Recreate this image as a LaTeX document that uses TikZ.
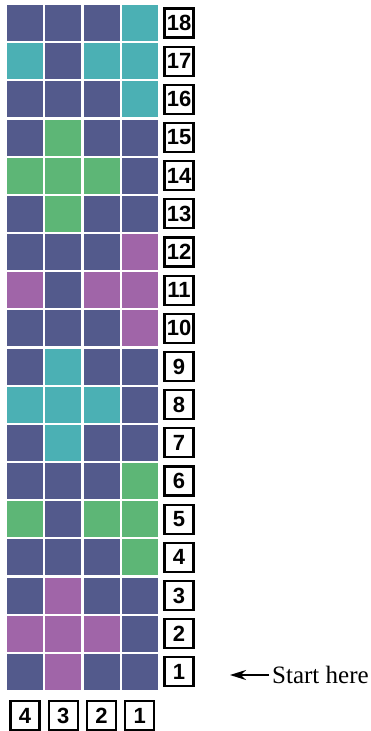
\documentclass[tikz,border=0pt]{standalone}
\usepackage{fontspec}
\setmainfont{Liberation Serif}
\setsansfont{Liberation Sans}
\usetikzlibrary{arrows.meta,positioning}
\definecolor{nav}{RGB}{83,90,140}
\definecolor{tea}{RGB}{75,176,180}
\definecolor{grn}{RGB}{93,182,118}
\definecolor{pur}{RGB}{160,101,168}
\tikzset{
  cell/.style={minimum width=36pt,minimum height=36pt,inner sep=0pt},
  numbox/.style={draw,line width=2.2pt,minimum width=29pt,minimum height=29pt,inner sep=0pt,
    font=\sffamily\bfseries\fontsize{22}{22}\selectfont},
}
\begin{document}
\begin{tikzpicture}[x=1pt,y=-1pt,>={Stealth[length=16pt,width=10pt]}]
  \useasboundingbox (0,0) rectangle (371,731);
  % pattern, top row first; colours left to right (columns 4,3,2,1)
  \foreach \r/\cols in {18/{nav,nav,nav,tea},17/{tea,nav,tea,tea},16/{nav,nav,nav,tea},
      15/{nav,grn,nav,nav},14/{grn,grn,grn,nav},13/{nav,grn,nav,nav},
      12/{nav,nav,nav,pur},11/{pur,nav,pur,pur},10/{nav,nav,nav,pur},
      9/{nav,tea,nav,nav},8/{tea,tea,tea,nav},7/{nav,tea,nav,nav},
      6/{nav,nav,nav,grn},5/{grn,nav,grn,grn},4/{nav,nav,nav,grn},
      3/{nav,pur,nav,nav},2/{pur,pur,pur,nav},1/{nav,pur,nav,nav}}{
    \foreach \c [count=\i from 0] in \cols
      \node[cell,fill=\c] (c\r-\i) at ({25+38.25*\i},{23+38.17*(18-\r)}) {};
    \node[numbox,right=5.5pt of c\r-3] (row\r) {\r};
  }
  % column numbers
  \foreach \n [count=\i from 0] in {4,3,2,1}
    \node[numbox,below=10pt of c1-\i] (col\n) {\n};
  % start marker
  \node[anchor=west,inner sep=3pt,font=\fontsize{25}{25}\selectfont] (start) at (269,675) {Start here};
  \coordinate (tip) at (230,675);
  \draw[->,line width=2pt] (start.west) -- (tip);
\end{tikzpicture}
\end{document}
